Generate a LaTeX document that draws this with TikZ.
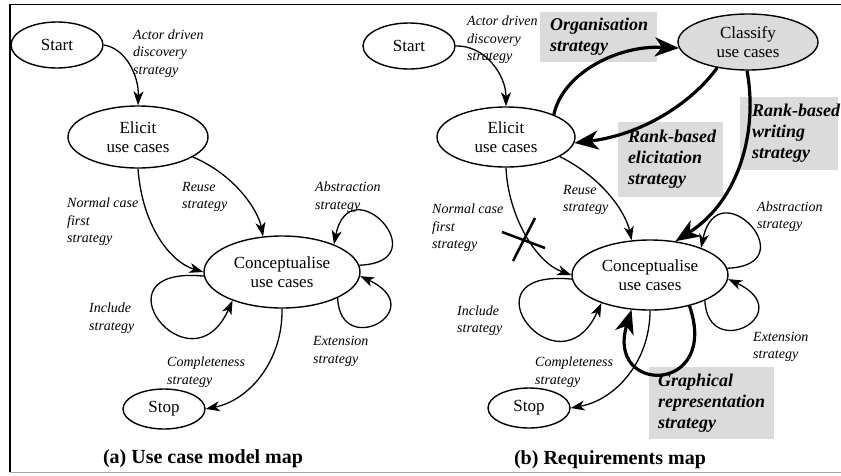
\documentclass[tikz,border=0pt]{standalone}
\usepackage{fontspec}
\setmainfont{Liberation Serif}
\usetikzlibrary{shapes.geometric,arrows.meta}

\tikzset{
  usecase/.style={draw, ellipse, line width=1.4pt, fill=white, inner sep=0pt,
    font=\fontsize{17}{18.5}\selectfont, align=center},
  strat/.style={font=\fontsize{14}{17.5}\selectfont\itshape, align=left,
    anchor=west, inner sep=0pt},
  keystrat/.style={fill=black!14, font=\fontsize{18}{21}\selectfont\bfseries\itshape,
    align=left, inner ysep=0pt, inner xsep=10pt, anchor=center},
  flow/.style={line width=1.3pt, -{Stealth[length=14pt,width=10pt,inset=4pt]}},
  keyflow/.style={line width=3.2pt, -{Stealth[length=24pt,width=19pt,inset=7pt]}},
  crossmark/.style={line width=2.5pt},
  caption/.style={font=\fontsize{20}{24}\selectfont\bfseries},
}

\begin{document}
\begin{tikzpicture}[x=1pt,y=-1pt]
\useasboundingbox (0,0) rectangle (841,475);

% frame
\draw[line width=1.5pt] (841,4.5) -- (10,4.5) -- (10,472);
\draw[line width=1pt, black!35] (10,472) -- (841,472);

% highlighted strategies of the requirements map
\node[keystrat, minimum width=117pt, minimum height=50pt, text width=97pt] (org) at (598.5,37) {Organisation\\strategy};
\node[keystrat, minimum width=105pt, minimum height=75pt, text width=85pt] (rbe) at (670.5,159.5) {\mbox{Rank-based}\\elicitation\\strategy};
\node[keystrat, minimum width=98pt, minimum height=73pt, text width=84pt, inner xsep=7pt] (rbw) at (789,133.5) {\hspace*{5pt}\mbox{Rank-based}\\\hspace*{5pt}writing\\\hspace*{5pt}strategy};
\node[keystrat, minimum width=125pt, minimum height=72pt, text width=107pt, inner xsep=9pt] (grp) at (711.5,403) {Graphical\\representation\\strategy};

% (a) use case model map: intentions
\node[usecase, minimum width=92pt, minimum height=46pt] (startA) at (57,45) {Start};
\node[usecase, minimum width=140pt, minimum height=62pt] (elicitA) at (138,137) {Elicit\\use cases};
\node[usecase, minimum width=156pt, minimum height=72pt] (concA) at (282,272) {Conceptualise\\use cases};
\node[usecase, minimum width=82pt, minimum height=40pt] (stopA) at (164,409) {Stop};

% (b) requirements map: intentions
\node[usecase, minimum width=92pt, minimum height=46pt] (startB) at (409,46) {Start};
\node[usecase, minimum width=140pt, minimum height=56pt, fill=black!14] (classify) at (748,42) {Classify\\use cases};
\node[usecase, minimum width=138pt, minimum height=60pt] (elicitB) at (506,137) {Elicit\\use cases};
\node[usecase, minimum width=156pt, minimum height=70pt] (concB) at (650,275) {Conceptualise\\use cases};
\node[usecase, minimum width=82pt, minimum height=40pt] (stopB) at (529,408) {Stop};

% (a) strategies
\draw[flow] (startA.east) .. controls (125,48) and (139,75) .. (elicitA.north);
\draw[flow] (elicitA.south) .. controls (142,225) and (170,262) .. (concA.west);
\draw[flow] (elicitA.-20) .. controls (235,175) and (258,210) .. (concA.118);
\draw[flow] (concA.5) .. controls (440,262) and (350,165) .. (concA.28);
\draw[flow] (concA.-25) .. controls (340,360) and (432,310) .. (concA.-3);
\draw[flow] (concA.183) .. controls (90,265) and (190,395) .. (concA.-150);
\draw[flow] (concA.south) .. controls (283,360) and (250,400) .. (stopA.east);

\node[strat] (actA) at (133,53.5) {Actor driven\\discovery\\strategy};
\node[strat] (normA) at (67,222) {Normal case\\first\\strategy};
\node[strat] (reuseA) at (182,197) {Reuse\\strategy};
\node[strat] (absA) at (315,197) {Abstraction\\strategy};
\node[strat] (incA) at (89,318) {Include\\strategy};
\node[strat] (extA) at (313,351.5) {Extension\\strategy};
\node[strat] (compA) at (167,372) {Completeness\\strategy};

% (b) strategies
\draw[flow] (startB.east) .. controls (485,45) and (506,75) .. (elicitB.north);
\draw[flow] (elicitB.south) .. controls (508,215) and (535,262) .. (concB.west);
\draw[flow] (elicitB.-20) .. controls (603,178) and (626,213) .. (concB.118);
\draw[flow] (concB.5) .. controls (808,265) and (718,168) .. (concB.28);
\draw[flow] (concB.-25) .. controls (708,363) and (800,313) .. (concB.-3);
\draw[flow] (concB.183) .. controls (458,268) and (558,398) .. (concB.-150);
\draw[flow] (concB.south) .. controls (650,362) and (615,400) .. (stopB.east);

\draw[keyflow] (elicitB.25) .. controls (562,75) and (615,45) .. (classify.185);
\draw[keyflow] (classify.-140) .. controls (690,105) and (640,135) .. (elicitB.-5);
\draw[keyflow] (classify.-92) .. controls (758,130) and (740,200) .. (concB.53);
\draw[keyflow] (concB.-38) .. controls (720,395) and (605,395) .. (concB.-118);

% removed strategy
\coordinate (xmark) at (523,240);
\draw[crossmark] (xmark) ++(-21,-8) -- ++(43,16);
\draw[crossmark] (xmark) ++(12,-22) -- ++(-22,43);

\node[strat] (actB) at (467,40) {Actor driven\\discovery\\strategy};
\node[strat] (normB) at (432,228) {Normal case\\first\\strategy};
\node[strat] (reuseB) at (563,200) {Reuse\\strategy};
\node[strat] (absB) at (757,216.5) {Abstraction\\strategy};
\node[strat] (incB) at (457,320.5) {Include\\strategy};
\node[strat] (extB) at (753,347) {Extension\\strategy};
\node[strat] (compB) at (535,372) {Completeness\\strategy};

% captions
\node[caption] (capA) at (203,459) {(a) Use case model map};
\node[caption] (capB) at (610,460) {(b) Requirements map};
\end{tikzpicture}
\end{document}
